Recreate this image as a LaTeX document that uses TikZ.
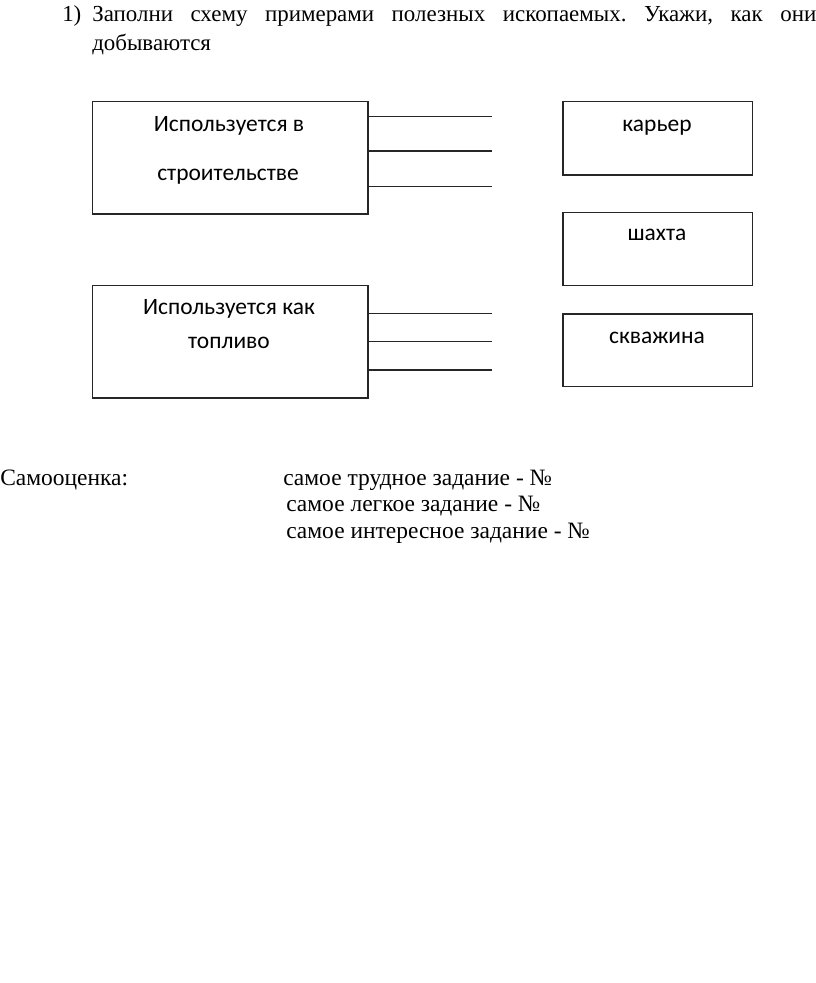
\documentclass[tikz,border=0pt]{standalone}
\usepackage{fontspec}
\setmainfont{Liberation Serif}
\newfontfamily\boxfont{Carlito}
\tikzset{
  px/.style={x=0.75pt,y=-0.75pt},
  frame/.style={draw=black!85,line width=1pt,rectangle,inner sep=0pt},
  boxtext/.style={anchor=base,inner sep=0pt,font=\boxfont\fontsize{17.6}{21}\selectfont},
  serif/.style={anchor=base west,inner sep=0pt,font=\fontsize{17.6}{21}\selectfont},
  head/.style={anchor=base west,inner sep=0pt,font=\fontsize{17.2}{21}\selectfont},
  link/.style={draw=black!85,line width=1pt}
}
\begin{document}
\begin{tikzpicture}[px]
\useasboundingbox (0,0) rectangle (816,983);
% heading
\node[head] (num) at (62,21) {1)};
\node[head] (h1) at (92,21) {\hbox to 543pt{Заполни\hfill схему\hfill примерами\hfill полезных\hfill ископаемых.\hfill Укажи,\hfill как\hfill они}};
\node[head] (h2) at (92,50) {добываются};
% left boxes
\node[frame,minimum width=275.6*0.75pt,minimum height=112.3*0.75pt,anchor=north west] (b1) at (91.7,101) {};
\node[frame,minimum width=275.6*0.75pt,minimum height=112.3*0.75pt,anchor=north west] (b2) at (91.7,285) {};
\node[boxtext] (t1a) at (229,131.7) {Используется в};
\node[boxtext] (t1b) at (228,180) {строительстве};
\node[boxtext] (t2a) at (229,314.3) {Используется как};
\node[boxtext] (t2b) at (229,348) {топливо};
% right boxes
\node[frame,minimum width=189.4*0.75pt,minimum height=73.3*0.75pt,anchor=north west] (r1) at (562.3,101) {};
\node[frame,minimum width=189.4*0.75pt,minimum height=73.3*0.75pt,anchor=north west] (r2) at (562.3,211.7) {};
\node[frame,minimum width=189.4*0.75pt,minimum height=72.7*0.75pt,anchor=north west] (r3) at (562.3,313.3) {};
\node[boxtext] (k1) at (657,131.7) {карьер};
\node[boxtext] (k2) at (657,240.7) {шахта};
\node[boxtext] (k3) at (657,343) {скважина};
% lines
\foreach \n/\yy in {a/116.7,b/151,c/186.7}{
  \coordinate (e1\n) at (492,\yy);
  \draw[link] (b1.east |- e1\n) -- (e1\n);
}
\foreach \n/\yy in {a/313.3,b/341.7,c/370}{
  \coordinate (e2\n) at (492,\yy);
  \draw[link] (b2.east |- e2\n) -- (e2\n);
}
% self assessment
\node[serif] (s0) at (0,485) {Самооценка:};
\node[serif] (s1) at (283,485) {самое трудное задание - №};
\node[serif] (s2) at (286,511.5) {самое легкое задание - №};
\node[serif] (s3) at (286,538) {самое интересное задание - №};
\end{tikzpicture}
\end{document}
